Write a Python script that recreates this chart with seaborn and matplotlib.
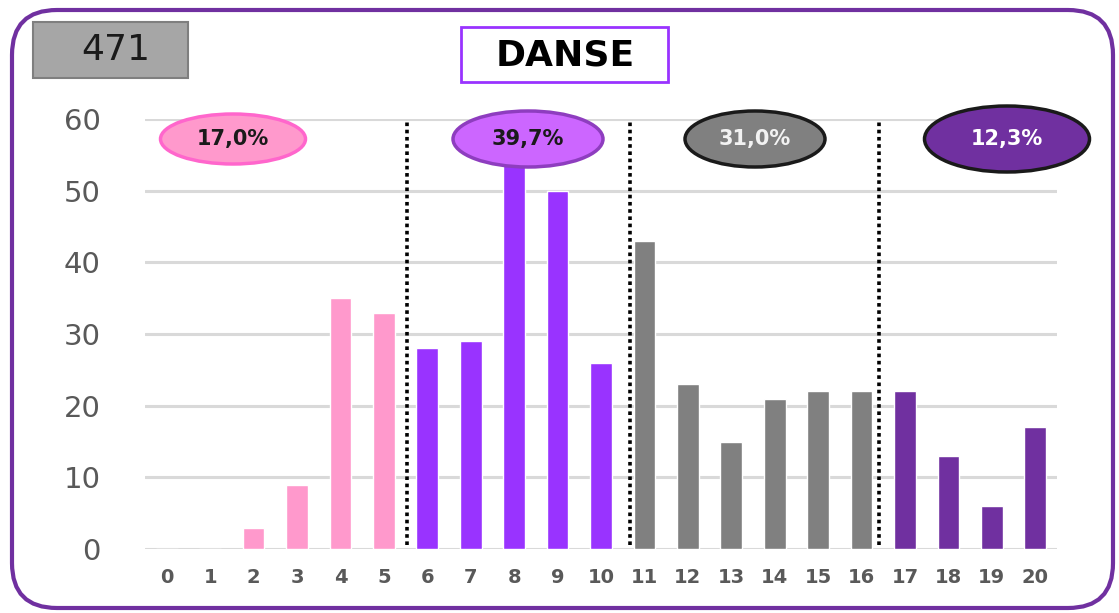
"""
Distribution des notes - DANSE (histogram with grouped colour bands).
"""

import matplotlib
matplotlib.use("Agg")
import matplotlib.pyplot as plt
import pandas as pd
import seaborn as sns
from matplotlib.patches import Ellipse, FancyBboxPatch, Rectangle

# data
notes = list(range(21))
effectifs = [0, 0, 3, 9, 35, 33, 28, 29, 54, 50, 26, 43, 23, 15, 21, 22, 22, 22, 13, 6, 17]
groupes = ["A"] * 6 + ["B"] * 5 + ["C"] * 6 + ["D"] * 4
group_colors = {"A": "#ff99cc", "B": "#9933ff", "C": "#808080", "D": "#7030a0"}
pourcentages = ["17,0%", "39,7%", "31,0%", "12,3%"]
separateurs = [5.53, 10.67, 16.4]
total = "471"
titre = "DANSE"

df = pd.DataFrame({"note": notes, "effectif": effectifs, "groupe": groupes})

sns.set_theme(style="white")
plt.rcParams["font.family"] = ["DejaVu Sans"]

W, H = 1119, 613
fig = plt.figure(figsize=(W / 100, H / 100), dpi=100)
ax = fig.add_axes([145 / W, 1 - 549 / H, (1057 - 145) / W, (549 - 119) / H])

sns.barplot(data=df, x="note", y="effectif", hue="groupe", palette=group_colors,
            dodge=False, width=0.5, saturation=1, legend=False, ax=ax, zorder=3)

ax.set_xlim(-0.5, 20.5)
ax.set_ylim(0, 60)
ax.set_yticks(range(0, 61, 10))
ax.yaxis.grid(True, color="#d9d9d9", lw=2.2, zorder=0)
ax.xaxis.grid(False)
for s in ax.spines.values():
    s.set_visible(False)
ax.set_xlabel("")
ax.set_ylabel("")
ax.tick_params(axis="y", length=0, pad=32, labelsize=21, labelcolor="#595959")
ax.tick_params(axis="x", length=0, pad=14, labelsize=14, labelcolor="#595959")
for lbl in ax.get_xticklabels():
    lbl.set_fontweight("bold")

ax.vlines(separateurs, 0.5, 60, colors="black", linestyles=(0, (1, 1)), lw=2.6, zorder=4)

# decorations in pixel-based inches
tr = fig.dpi_scale_trans


def px(x, y):
    return x / 100, (H - y) / 100


# outer rounded frame
x0, y0 = px(12, 608)
fig.add_artist(FancyBboxPatch((x0, y0), (1113 - 12) / 100, (608 - 10) / 100,
                              boxstyle="round,pad=0,rounding_size=0.45",
                              fc="none", ec="#7030a0", lw=3, transform=tr))

# total box
bx, by = px(33, 78)
fig.add_artist(Rectangle((bx, by), 1.55, 0.56, fc="#a6a6a6", ec="#7f7f7f", lw=1.5, transform=tr))
fig.text(*px(116, 50), total, transform=tr, ha="center", va="center", fontsize=26, color="#1a1a1a")

# title box
tx, ty = px(461, 82)
fig.add_artist(Rectangle((tx, ty), 2.07, 0.55, fc="white", ec="#9933ff", lw=2, transform=tr))
fig.text(*px(565, 56), titre, transform=tr, ha="center", va="center", fontsize=26,
         fontweight="bold", color="black")

# percentage bubbles
bubbles = [
    (233, 139, 145, 50, "#ff99cc", "#ff66cc", "#1a1a1a"),
    (528, 139, 150, 56, "#cc66ff", "#8e3dbf", "#1a1a1a"),
    (755, 139, 140, 56, "#808080", "#1a1a1a", "#f2f2f2"),
    (1007, 139, 165, 66, "#7030a0", "#1a1a1a", "#ffffff"),
]
for (cx, cy, w, h, fc, ec, tc), txt in zip(bubbles, pourcentages):
    fig.add_artist(Ellipse(px(cx, cy), w / 100, h / 100, fc=fc, ec=ec, lw=2.5, transform=tr, zorder=5))
    fig.text(*px(cx, cy), txt, transform=tr, ha="center", va="center", fontsize=15,
             fontweight="bold", color=tc, zorder=6)

fig.savefig("out.png", dpi=100, facecolor="white")
plt.close(fig)
